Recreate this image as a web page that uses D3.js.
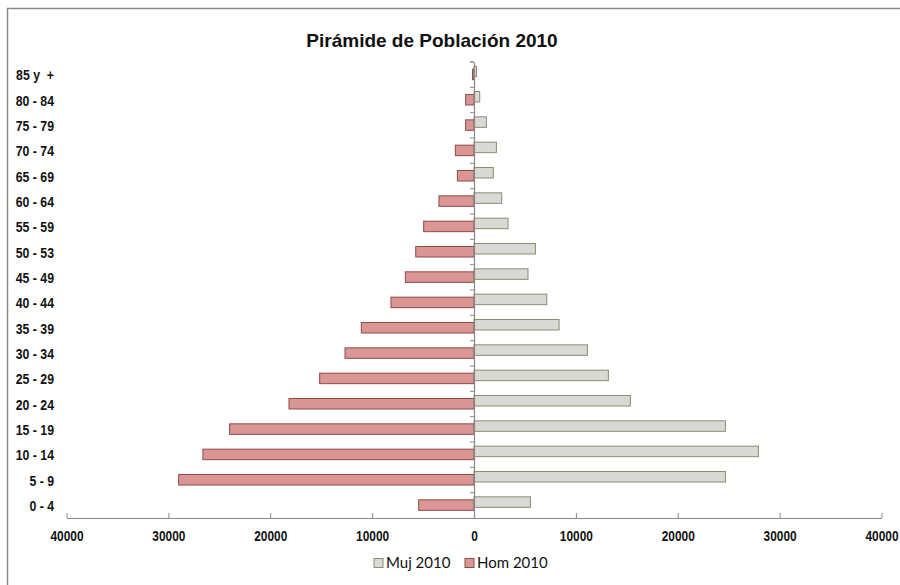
<!DOCTYPE html>
<html>
<head>
<meta charset="utf-8">
<script src="https://cdn.jsdelivr.net/npm/d3@7"></script>
<style>
html,body{margin:0;padding:0;background:#fff;}
svg{display:block;}
</style>
</head>
<body>
<svg id="chart" width="900" height="585"></svg>
<script>
const categories = ["0 - 4","5 - 9","10 - 14","15 - 19","20 - 24","25 - 29","30 - 34","35 - 39","40 - 44","45 - 49","50 - 53","55 - 59","60 - 64","65 - 69","70 - 74","75 - 79","80 - 84","85 y  +"];
const muj2010 = [5540,24680,27920,24680,15350,13190,11130,8350,7140,5300,6030,3340,2720,1900,2200,1220,560,250];
const hom2010 = [5430,28990,26610,23990,18160,15150,12660,11060,8150,6740,5720,4940,3440,1630,1830,820,820,150];
const xTicks = [-40000,-30000,-20000,-10000,0,10000,20000,30000,40000];
const seriesNames = ["Muj 2010","Hom 2010"];
const title = "Pirámide de Población 2010";

const svg = d3.select("#chart");

// frame
svg.append("path").attr("d","M7.5,585 L7.5,8.5 L900,8.5").attr("fill","none").attr("stroke","#8a8a8a").attr("stroke-width",1.5);

const x = d3.scaleLinear().domain([-40000,40000]).range([66.5,881.5]);
const y = d3.scaleBand().domain(categories.slice().reverse()).range([62,518]).paddingInner(0);

const labelFont = "'Liberation Sans',Arial,sans-serif";

// title
svg.append("text").attr("x",432).attr("y",47).attr("text-anchor","middle")
  .attr("font-family","'Liberation Sans',Arial,sans-serif").attr("font-weight","bold").attr("font-size",19)
  .attr("fill","#111").text(title);

const barH = 10.5;
const g = svg.append("g");

// Hom bars (negative side)
g.selectAll("rect.hom").data(categories).join("rect").attr("class","hom")
  .attr("x",(d,i)=>x(-hom2010[i]))
  .attr("y",d=>y(d)+y.bandwidth()/2-5.5)
  .attr("width",(d,i)=>x(0)-x(-hom2010[i]))
  .attr("height",barH)
  .attr("fill","#d99694").attr("stroke","#8e4a48").attr("stroke-width",1);

// Muj bars (positive side)
g.selectAll("rect.muj").data(categories).join("rect").attr("class","muj")
  .attr("x",x(0))
  .attr("y",d=>y(d)+y.bandwidth()/2-8.5)
  .attr("width",(d,i)=>x(muj2010[i])-x(0))
  .attr("height",barH)
  .attr("fill","#d9d9d6").attr("stroke","#8f8b6e").attr("stroke-width",1);

// x axis
const xAxis = d3.axisBottom(x).tickValues(xTicks).tickFormat(d=>Math.abs(d)).tickSize(5).tickSizeOuter(0);
const gx = svg.append("g").attr("transform","translate(0,518)").call(xAxis);
gx.select(".domain").attr("stroke","#888").attr("stroke-width",1.2);
gx.selectAll(".tick line").attr("stroke","#888").attr("y1",-5).attr("y2",0);
gx.selectAll(".tick text").attr("y",0)
  .attr("transform","translate(0,23) scale(0.82,1)")
  .attr("dy",null)
  .attr("font-family",labelFont).attr("font-weight","bold").attr("font-size",14.5).attr("fill","#111");

// y axis line at zero
const yAxis = d3.axisLeft(y).tickSize(0).tickFormat("");
const gy = svg.append("g").attr("transform",`translate(${x(0)},0)`).call(yAxis);
gy.select(".domain").attr("stroke","#888").attr("stroke-width",1.2);
// tick marks at band boundaries
const bounds = categories.map(c=>y(c)).concat([62]);
svg.append("g").selectAll("line").data(bounds).join("line")
  .attr("x1",x(0)-4).attr("x2",x(0)).attr("y1",d=>d).attr("y2",d=>d)
  .attr("stroke","#888").attr("stroke-width",1);

// category labels on the left
svg.append("g").selectAll("text").data(categories).join("text")
  .attr("transform",d=>`translate(54,${y(d)+y.bandwidth()/2+5.5}) scale(0.82,1)`)
  .attr("text-anchor","end")
  .attr("font-family",labelFont).attr("font-weight","bold").attr("font-size",15).attr("fill","#111")
  .attr("xml:space","preserve").style("white-space","pre")
  .text(d=>d);

// legend
const legend = svg.append("g");
const legX = [374,465];
const legFill = ["#d9d9d6","#d99694"];
const legStroke = ["#8f8b6e","#8e4a48"];
seriesNames.forEach((n,i)=>{
  legend.append("rect").attr("x",legX[i]).attr("y",558.5).attr("width",9).attr("height",9)
    .attr("fill",legFill[i]).attr("stroke",legStroke[i]);
  legend.append("text").attr("x",legX[i]+12).attr("y",568).attr("font-family","Lato,'Open Sans',sans-serif")
    .attr("font-size",15).attr("fill","#111").text(n);
});
</script>
</body>
</html>
